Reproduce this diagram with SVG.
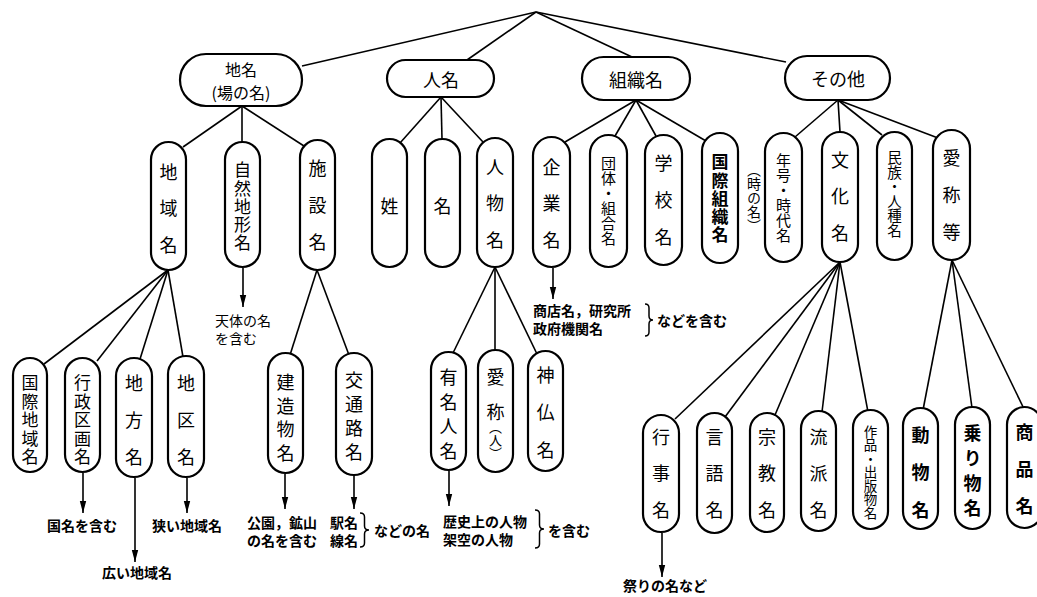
<svg xmlns="http://www.w3.org/2000/svg" width="1037" height="597" viewBox="0 0 1037 597">
<style>
.p{fill:#fff;stroke:#000;stroke-width:2.2}
.t{font-family:"Noto Sans CJK JP","Noto Sans CJK SC",sans-serif;font-size:18px;fill:#000;text-anchor:middle;dominant-baseline:central}
.v{font-family:"Noto Sans CJK JP","Noto Sans CJK SC",sans-serif;font-size:18px;fill:#000;writing-mode:vertical-rl;text-anchor:start}
.l{font-family:"Noto Sans CJK JP","Noto Sans CJK SC",sans-serif;font-size:14px;fill:#000;font-weight:bold;dominant-baseline:central}
.c line{stroke:#000;stroke-width:1.6}
.a{stroke:#000;stroke-width:1.6;marker-end:url(#ah)}
.b{fill:none;stroke:#000;stroke-width:1.5}
</style>
<defs>
<marker id="ah" viewBox="0 0 12 8" refX="12" refY="4" markerWidth="12" markerHeight="8" orient="auto" markerUnits="userSpaceOnUse">
<path d="M0 0.8 L12 4 L0 7.2 Z" fill="#000"/>
</marker>
</defs>
<g id="connectors" class="c">
<line x1="536" y1="12" x2="302" y2="66"/>
<line x1="536" y1="12" x2="467" y2="60"/>
<line x1="536" y1="12" x2="632" y2="57"/>
<line x1="536" y1="12" x2="786" y2="62"/>
<line x1="242" y1="106" x2="183" y2="147"/>
<line x1="242" y1="106" x2="242" y2="142"/>
<line x1="242" y1="106" x2="304" y2="146"/>
<line x1="441" y1="97" x2="400" y2="143"/>
<line x1="441" y1="97" x2="442" y2="139"/>
<line x1="441" y1="97" x2="483" y2="142"/>
<line x1="636" y1="100" x2="565" y2="142"/>
<line x1="636" y1="100" x2="615" y2="136"/>
<line x1="636" y1="100" x2="656" y2="136"/>
<line x1="636" y1="100" x2="706" y2="141"/>
<line x1="838" y1="100" x2="795" y2="137"/>
<line x1="838" y1="100" x2="840" y2="132"/>
<line x1="838" y1="100" x2="882" y2="135"/>
<line x1="838" y1="100" x2="938" y2="138"/>
<line x1="168" y1="270" x2="44" y2="364"/>
<line x1="168" y1="270" x2="97" y2="361"/>
<line x1="168" y1="270" x2="140" y2="359"/>
<line x1="168" y1="270" x2="183" y2="357"/>
<line x1="317" y1="270" x2="290" y2="355"/>
<line x1="317" y1="270" x2="349" y2="355"/>
<line x1="495" y1="267" x2="453" y2="353"/>
<line x1="495" y1="267" x2="495" y2="350"/>
<line x1="495" y1="267" x2="537" y2="354"/>
<line x1="840" y1="262" x2="675" y2="419"/>
<line x1="840" y1="262" x2="725" y2="417"/>
<line x1="840" y1="262" x2="775" y2="415"/>
<line x1="840" y1="262" x2="822" y2="412"/>
<line x1="840" y1="262" x2="868" y2="412"/>
<line x1="952" y1="260" x2="923" y2="410"/>
<line x1="952" y1="260" x2="972" y2="408"/>
<line x1="952" y1="260" x2="1025" y2="411"/>
<line class="a" x1="243" y1="268" x2="243" y2="307"/>
<line class="a" x1="553" y1="268" x2="553" y2="299"/>
<line class="a" x1="83" y1="473" x2="83" y2="513"/>
<line class="a" x1="135" y1="478" x2="135" y2="562"/>
<line class="a" x1="187" y1="478" x2="187" y2="513"/>
<line class="a" x1="285" y1="474" x2="285" y2="509"/>
<line class="a" x1="354" y1="476" x2="354" y2="509"/>
<line class="a" x1="449" y1="471" x2="449" y2="506"/>
<line class="a" x1="662" y1="533" x2="662" y2="577"/>
</g>
<g id="n-chimei"><rect class="p" x="180" y="54" width="122" height="52" rx="26"/><text class="t" x="241" y="69" style="font-size:16px">地名</text><text class="t" x="241" y="92" style="font-size:16px">(場の名)</text></g>
<g id="n-jinmei"><rect class="p" x="387" y="60" width="107" height="37" rx="18.5"/><text class="t" x="441" y="79">人名</text></g>
<g id="n-soshiki"><rect class="p" x="582" y="57" width="108" height="43" rx="21.5"/><text class="t" x="636" y="79">組織名</text></g>
<g id="n-sonota"><rect class="p" x="785" y="56" width="105" height="44" rx="22"/><text class="t" x="838" y="78">その他</text></g>

<g id="n-chiiki"><rect class="p" x="151" y="142" width="35" height="128" rx="17.5"/><text class="v" x="168.5" y="163" style="letter-spacing:18.5px">地域名</text></g>
<g id="n-shizen"><rect class="p" x="225" y="142" width="35" height="125" rx="17.5"/><text class="v" x="242.5" y="161.5" style="font-size:17px;letter-spacing:1.25px">自然地形名</text></g>
<g id="n-shisetsu"><rect class="p" x="300" y="140" width="35" height="130" rx="17.5"/><text class="v" x="317.5" y="159" style="letter-spacing:19px">施設名</text></g>
<g id="n-sei"><rect class="p" x="372" y="139" width="35" height="128" rx="17.5"/><text class="t" x="389.5" y="205">姓</text></g>
<g id="n-mei"><rect class="p" x="425" y="139" width="35" height="128" rx="17.5"/><text class="t" x="442.5" y="205">名</text></g>
<g id="n-jinbutsu"><rect class="p" x="477" y="138" width="36" height="129" rx="18"/><text class="v" x="495" y="158" style="letter-spacing:18.5px">人物名</text></g>
<g id="n-kigyo"><rect class="p" x="533" y="137" width="37" height="130" rx="18.5"/><text class="v" x="551.5" y="158" style="letter-spacing:18.5px">企業名</text></g>
<g id="n-dantai"><rect class="p" x="590" y="135" width="37" height="132" rx="18.5"/><text class="v" x="608.5" y="155.5" style="font-size:15px">団体・組合名</text></g>
<g id="n-gakko"><rect class="p" x="645" y="135" width="37" height="130" rx="18.5"/><text class="v" x="663.5" y="154" style="letter-spacing:19px">学校名</text></g>
<g id="n-kokusaisoshiki"><rect class="p" x="702" y="133" width="36" height="130" rx="18"/><text class="v" x="720" y="153.5" style="font-size:17px;letter-spacing:1.25px;font-weight:bold">国際組織名</text></g>
<text id="tokinona" class="v" x="754" y="163" style="font-size:14px">（時の名）</text>
<g id="n-nengo"><rect class="p" x="765" y="133" width="37" height="129" rx="18.5"/><text class="v" x="783.5" y="152.5" style="font-size:15px">年号・時代名</text></g>
<g id="n-bunka"><rect class="p" x="822" y="132" width="36" height="130" rx="18"/><text class="v" x="840" y="151" style="letter-spacing:18.5px">文化名</text></g>
<g id="n-minzoku"><rect class="p" x="877" y="132" width="35" height="128" rx="17.5"/><text class="v" x="894.5" y="150.5" style="font-size:14.5px">民族・人種名</text></g>
<g id="n-aisho"><rect class="p" x="933" y="130" width="37" height="130" rx="18.5"/><text class="v" x="951.5" y="149" style="letter-spacing:19px">愛称等</text></g>

<g id="n-kokusaichiiki"><rect class="p" x="13" y="358" width="34" height="114" rx="17"/><text class="v" x="30" y="374.5" style="font-size:17px;letter-spacing:1.5px">国際地域名</text></g>
<g id="n-gyosei"><rect class="p" x="65" y="358" width="35" height="114" rx="17.5"/><text class="v" x="82.5" y="374.5" style="font-size:17px;letter-spacing:1.5px">行政区画名</text></g>
<g id="n-chiho"><rect class="p" x="116" y="358" width="36" height="119" rx="18"/><text class="v" x="134" y="374" style="letter-spacing:19px">地方名</text></g>
<g id="n-chiku"><rect class="p" x="168" y="356" width="36" height="121" rx="18"/><text class="v" x="186" y="374" style="letter-spacing:19px">地区名</text></g>
<g id="n-kenzo"><rect class="p" x="268" y="353" width="35" height="120" rx="17.5"/><text class="v" x="285.5" y="373" style="letter-spacing:5.7px">建造物名</text></g>
<g id="n-kotsu"><rect class="p" x="336" y="353" width="36" height="122" rx="18"/><text class="v" x="354" y="371" style="letter-spacing:6px">交通路名</text></g>
<g id="n-yumei"><rect class="p" x="431" y="352" width="35" height="118" rx="17.5"/><text class="v" x="448.5" y="368" style="letter-spacing:6.7px">有名人名</text></g>
<g id="n-aisho2"><rect class="p" x="478" y="350" width="35" height="122" rx="17.5"/><text class="v" x="495.5" y="368"><tspan style="letter-spacing:17px">愛</tspan>称<tspan style="font-size:13px">（人）</tspan></text></g>
<g id="n-shinbutsu"><rect class="p" x="528" y="351" width="35" height="120" rx="17.5"/><text class="v" x="545.5" y="366" style="letter-spacing:19.5px">神仏名</text></g>

<g id="n-gyoji"><rect class="p" x="643" y="415" width="36" height="117" rx="18"/><text class="v" x="661" y="428" style="letter-spacing:18.5px">行事名</text></g>
<g id="n-gengo"><rect class="p" x="697" y="413" width="35" height="120" rx="17.5"/><text class="v" x="714.5" y="428" style="letter-spacing:18.5px">言語名</text></g>
<g id="n-shukyo"><rect class="p" x="750" y="413" width="34" height="119" rx="17"/><text class="v" x="767" y="428" style="letter-spacing:18.5px">宗教名</text></g>
<g id="n-ryuha"><rect class="p" x="801" y="411" width="35" height="120" rx="17.5"/><text class="v" x="818.5" y="428" style="letter-spacing:18.5px">流派名</text></g>
<g id="n-sakuhin"><rect class="p" x="853" y="410" width="35" height="119" rx="17.5"/><text class="v" x="870.5" y="425" style="font-size:13.5px">作品・出版物名</text></g>
<g id="n-dobutsu"><rect class="p" x="903" y="408" width="35" height="121" rx="17.5"/><text class="v" x="920.5" y="426" style="letter-spacing:19.5px;font-weight:bold">動物名</text></g>
<g id="n-norimono"><rect class="p" x="955" y="407" width="35" height="122" rx="17.5"/><text class="v" x="972.5" y="424" style="letter-spacing:7px;font-weight:bold">乗り物名</text></g>
<g id="n-shohin"><rect class="p" x="1007" y="407" width="35" height="121" rx="17.5"/><text class="v" x="1024.5" y="423" style="letter-spacing:19px;font-weight:bold">商品名</text></g>

<g id="labels">
<text class="l" x="215" y="320" style="font-weight:normal">天体の名</text>
<text class="l" x="215" y="338" style="font-weight:normal">を含む</text>
<text class="l" x="533" y="310">商店名，研究所</text>
<text class="l" x="533" y="328">政府機関名</text>
<path class="b" d="M645 304 Q649 304 649 308 L649 316 Q649 320 653 320 Q649 320 649 324 L649 332 Q649 336 645 336"/>
<text class="l" x="657" y="320">などを含む</text>
<text class="l" x="82" y="525" style="text-anchor:middle">国名を含む</text>
<text class="l" x="152" y="525">狭い地域名</text>
<text class="l" x="102" y="572">広い地域名</text>
<text class="l" x="247" y="522">公園，鉱山</text>
<text class="l" x="247" y="540">の名を含む</text>
<text class="l" x="330" y="522">駅名</text>
<text class="l" x="330" y="540">線名</text>
<path class="b" d="M360 513 Q364.5 513 364.5 517 L364.5 526 Q364.5 530 369 530 Q364.5 530 364.5 534 L364.5 543 Q364.5 547 360 547"/>
<text class="l" x="374" y="530">などの名</text>
<text class="l" x="443" y="521">歴史上の人物</text>
<text class="l" x="443" y="539">架空の人物</text>
<path class="b" d="M535 510 Q539.5 510 539.5 514 L539.5 525 Q539.5 529 544 529 Q539.5 529 539.5 533 L539.5 544 Q539.5 548 535 548"/>
<text class="l" x="548" y="530">を含む</text>
<text class="l" x="623" y="585">祭りの名など</text>
</g>
</svg>
